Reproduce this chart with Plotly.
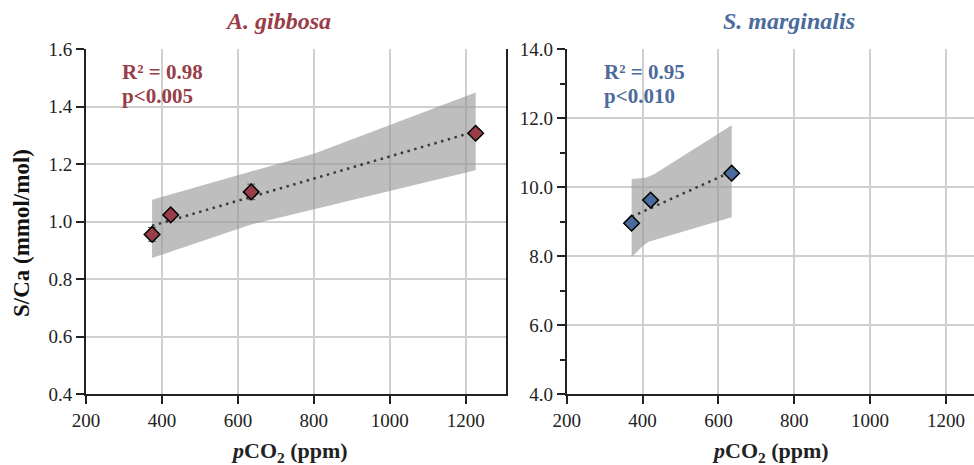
import numpy as np
import plotly.graph_objects as go

# ---------------- data ----------------
ag_pco2 = [374, 423, 635, 1226]
ag_sca = [0.955, 1.023, 1.103, 1.307]
ag_err = [0.024, 0.01, 0.027, 0.01]
ag_band_up_x = [374, 635, 800, 1226]
ag_band_up_y = [1.076, 1.173, 1.236, 1.449]
ag_band_lo_x = [374, 635, 1226]
ag_band_lo_y = [0.873, 0.990, 1.178]

sm_pco2 = [371, 421, 635]
sm_sca = [8.95, 9.62, 10.40]
sm_band_up_x = [371, 408, 430, 635]
sm_band_up_y = [10.23, 10.27, 10.37, 11.79]
sm_band_lo_x = [371, 403, 416, 635]
sm_band_lo_y = [7.97, 8.31, 8.41, 9.12]

ag_label = ["R² = 0.98", "p<0.005"]
sm_label = ["R² = 0.95", "p<0.010"]
x_ticks = [200, 400, 600, 800, 1000, 1200]

RED = "#993d48"
BLUE = "#4b6b9c"
FONT = "Liberation Serif"

fig = go.Figure()


def add_panel(xs, ys, band_ux, band_uy, band_lx, band_ly, color, xa, ya, err=None):
    fig.add_trace(go.Scatter(
        x=list(band_ux) + list(band_lx)[::-1],
        y=list(band_uy) + list(band_ly)[::-1],
        fill="toself", fillcolor="rgba(150,150,150,0.62)",
        line=dict(width=0), mode="lines", hoverinfo="skip",
        xaxis=xa, yaxis=ya, showlegend=False))
    k, b = np.polyfit(xs, ys, 1)
    lx = np.array([min(xs), max(xs)])
    fig.add_trace(go.Scatter(
        x=lx, y=k * lx + b, mode="lines",
        line=dict(color="#3a3a3a", width=2.5, dash="2.5px,4.5px"),
        xaxis=xa, yaxis=ya, showlegend=False))
    tr = dict(x=xs, y=ys, mode="markers",
              marker=dict(symbol="diamond", size=12, color=color,
                          line=dict(color="black", width=1.5)),
              xaxis=xa, yaxis=ya, showlegend=False)
    if err is not None:
        tr["error_y"] = dict(type="data", array=err, visible=True,
                             color="#555555", thickness=1, width=4)
    fig.add_trace(go.Scatter(**tr))


add_panel(ag_pco2, ag_sca, ag_band_up_x, ag_band_up_y, ag_band_lo_x, ag_band_lo_y,
          RED, "x", "y", ag_err)
add_panel(sm_pco2, sm_sca, sm_band_up_x, sm_band_up_y, sm_band_lo_x, sm_band_lo_y,
          BLUE, "x2", "y2")

axis_common = dict(
    showline=True, linecolor="#222222", linewidth=2,
    ticks="outside", ticklen=8, tickwidth=1.5, tickcolor="#222222",
    showgrid=True, gridcolor="#cfcfcf", gridwidth=2,
    zeroline=False, automargin=False,
    tickfont=dict(family=FONT, size=19, color="#222222"),
)

fig.update_layout(
    width=974, height=465,
    margin=dict(l=86, r=0, t=49, b=71),
    paper_bgcolor="white", plot_bgcolor="white",
    font=dict(family=FONT),
    xaxis=dict(domain=[0, 0.4726], range=[200, 1305], tickvals=x_ticks, **axis_common),
    yaxis=dict(range=[0.4, 1.6], dtick=0.2, tickformat=".1f", mirror=True, **axis_common),
    xaxis2=dict(domain=[0.5414, 1], range=[200, 1274], tickvals=x_ticks, anchor="y2",
                **axis_common),
    yaxis2=dict(range=[4, 14], dtick=2, tickformat=".1f", anchor="x2",
                minor=dict(dtick=1, ticks="outside", ticklen=5, tickcolor="#222222",
                           tickwidth=1.5, showgrid=False),
                **axis_common),
)

ann = []
ann.append(dict(text="<b><i>A. gibbosa</i></b>", x=0.2162, y=1.081, font=dict(size=24, color=RED)))
ann.append(dict(text="<b><i>S. marginalis</i></b>", x=0.7917, y=1.081, font=dict(size=24, color=BLUE)))
ann.append(dict(text="<b><i>p</i>CO<sub>2</sub> (ppm)</b>", x=0.2297, y=-0.168,
                font=dict(size=22, color="#222222")))
ann.append(dict(text="<b><i>p</i>CO<sub>2</sub> (ppm)</b>", x=0.7712, y=-0.168,
                font=dict(size=22, color="#222222")))
ann.append(dict(text="<b>S/Ca (mmol/mol)</b>", x=-0.072, y=0.4667, textangle=-90,
                font=dict(size=23, color="#111111")))
for i, t in enumerate(ag_label):
    ann.append(dict(text="<b>" + t + "</b>", x=0.0383, y=0.933 - i * 0.07, xanchor="left",
                    font=dict(size=21, color=RED)))
for i, t in enumerate(sm_label):
    ann.append(dict(text="<b>" + t + "</b>", x=0.581, y=0.933 - i * 0.07, xanchor="left",
                    font=dict(size=21, color=BLUE)))
for a in ann:
    a.setdefault("xanchor", "center")
    a.update(xref="paper", yref="paper", yanchor="middle", showarrow=False)
    a["font"]["family"] = FONT
fig.update_layout(annotations=ann)

fig.write_html(
    "out.html",
    config={"displayModeBar": False},
    post_script="document.body.style.margin='0';document.body.style.padding='0';"
                "document.body.style.overflow='hidden';",
)
